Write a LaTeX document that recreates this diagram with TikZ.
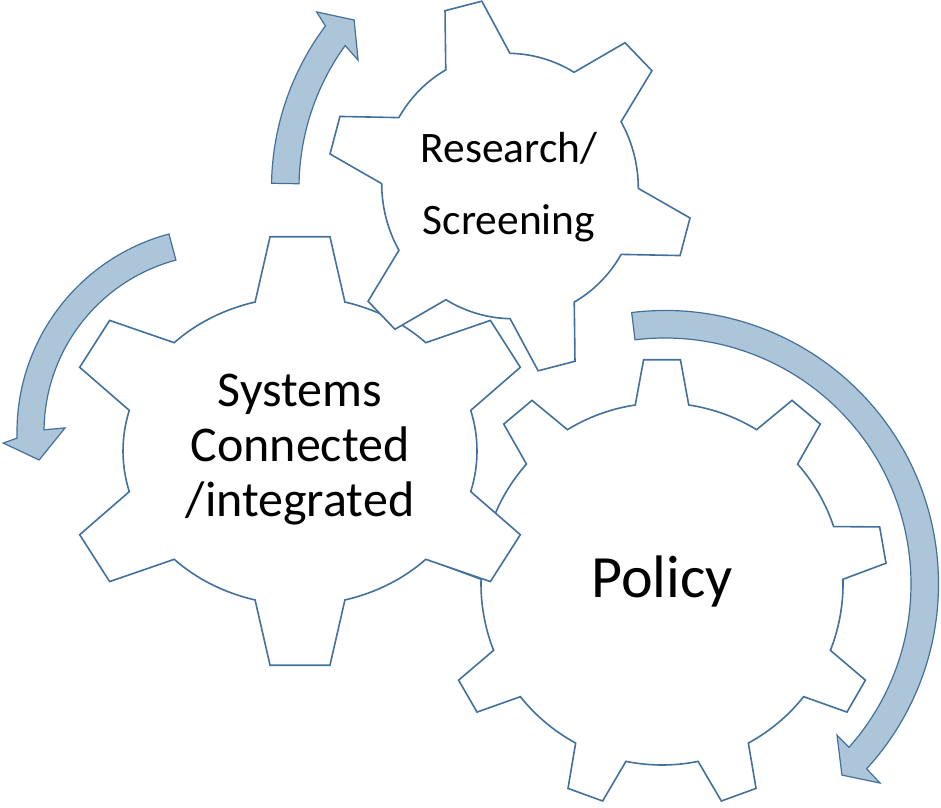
\documentclass[tikz,border=0pt]{standalone}
\usepackage{fontspec}
\setmainfont{Carlito}
\definecolor{gearblue}{RGB}{65,113,156}
\definecolor{arrowfill}{RGB}{173,197,217}
\tikzset{
  gearline/.style={draw=gearblue, line width=1.6pt, fill=white, line join=miter},
  cyclearrow/.style={draw=gearblue, fill=arrowfill, line width=1.2pt, line join=miter},
  labeltext/.style={text=black, inner sep=0pt, align=center}
}
% #1 rx, #2 ry (root), #3 tooth height, #4 half angle at root, #5 half angle at tip,
% #6 first tooth angle, #7 tooth spacing, #8 number of teeth minus one
\newcommand{\gearoutline}[8]{%
  \draw[gearline] ({#1*cos(#6-#4)},{#2*sin(#6-#4)})
  \foreach \k in {0,...,#8}{
    -- ({(#1+#3)*cos(#6+\k*#7-#5)},{(#2+#3)*sin(#6+\k*#7-#5)})
    -- ({(#1+#3)*cos(#6+\k*#7+#5)},{(#2+#3)*sin(#6+\k*#7+#5)})
    -- ({#1*cos(#6+\k*#7+#4)},{#2*sin(#6+\k*#7+#4)})
    arc[start angle={#6+\k*#7+#4}, end angle={#6+(\k+1)*#7-#4}, x radius=#1, y radius=#2]
  } -- cycle;}
\begin{document}
\begin{tikzpicture}[x=1pt,y=1pt]
\fill[white] (0,0) rectangle (941,807);
\useasboundingbox (0,0) rectangle (941,807);
% Policy gear (bottom layer)
\begin{scope}[shift={(662,223)}]
  \gearoutline{181}{181}{44}{8.5}{4.7}{90}{40}{8}
\end{scope}
\node[labeltext, font=\fontsize{60}{72}\selectfont, anchor=base] (policy) at (662,210) {Policy};
% Systems gear
\begin{scope}[shift={(300,356)}]
  \gearoutline{177}{154}{62}{14.7}{7.2}{30}{60}{5}
\end{scope}
\node[labeltext, font=\fontsize{50}{55}\selectfont, anchor=base] (systems) at (300,291) {Systems\\Connected\\/integrated};
% Research gear (top layer)
\begin{scope}[shift={(510,621)}, rotate=14.5]
  \gearoutline{128}{133}{54}{15}{6}{90}{60}{5}
\end{scope}
\node[labeltext, font=\fontsize{43.5}{72}\selectfont, anchor=base] (research) at (509,572) {Research/\\Screening};
% arrows
\begin{scope}[shift={(542,619)}]
  \draw[cyclearrow] (179:270.5) arc[start angle=179, end angle=143.2, radius=270.5]
    -- (142:286) -- (138.2:252) -- (145.2:224) -- (144.1:243)
    arc[start angle=144.1, end angle=179, radius=243] -- cycle;
\end{scope}
\begin{scope}[shift={(222,375)}]
  \draw[cyclearrow] (105:205) arc[start angle=105, end angle=181.7, radius=205]
    -- (182.9:219) -- (188.7:185) -- (178.5:157) -- (179.3:178)
    arc[start angle=179.3, end angle=105, radius=178] -- cycle;
\end{scope}
\begin{scope}[shift={(665,223)}]
  \draw[cyclearrow] (97:273.5) arc[start angle=97, end angle=-42.5, radius=273.5]
    -- (-42.8:293) -- (-47.2:260.4) -- (-41.3:229) -- (-41.6:246)
    arc[start angle=-41.6, end angle=97, radius=246] -- cycle;
\end{scope}
\end{tikzpicture}
\end{document}
